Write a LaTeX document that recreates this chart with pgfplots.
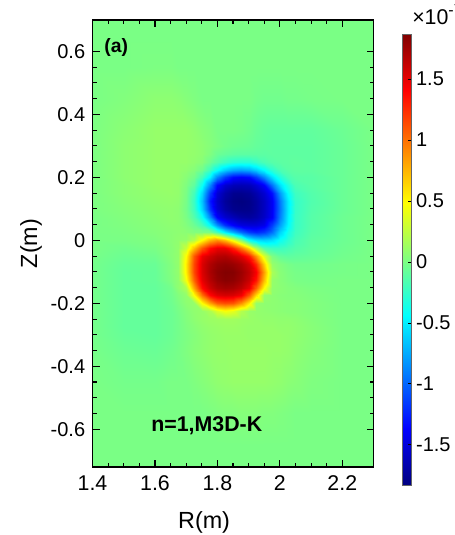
\documentclass[border=0pt]{standalone}
\usepackage{fontspec}
\setmainfont{Liberation Sans}
\usepackage{pgfplots}
\pgfplotsset{compat=1.18}
\begin{document}
\begin{tikzpicture}
\useasboundingbox (0pt,0pt) rectangle (340.5pt,401.25pt);
\begin{axis}[
  at={(69.4pt,51pt)}, anchor=south west,
  scale only axis, width=210.75pt, height=335.25pt,
  xmin=1.4, xmax=2.3, ymin=-0.72, ymax=0.7,
  xtick={1.4,1.6,1.8,2.0,2.2}, xticklabels={1.4,1.6,1.8,2,2.2},
  ytick={-0.6,-0.4,-0.2,0,0.2,0.4,0.6}, yticklabels={-0.6,-0.4,-0.2,0,0.2,0.4,0.6},
  minor x tick num=3, minor y tick num=3,
  tick align=inside, xtick pos=both, ytick pos=both,
  major tick length=5.25pt, minor tick length=3pt,
  every tick/.style={black, line width=0.8pt},
  axis line style={black, line width=1.1pt},
  axis on top,
  xticklabel style={font=\fontsize{16}{19}\selectfont, yshift=-3pt},
  yticklabel style={font=\fontsize{15}{18}\selectfont, xshift=-2pt},
  xlabel={R(m)}, ylabel={Z(m)},
  xlabel style={font=\fontsize{17.5}{20}\selectfont, at={(axis description cs:0.397,-0.125)}, anchor=center},
  ylabel style={font=\fontsize{17.5}{20}\selectfont, at={(axis description cs:-0.219,0.5)}, anchor=center},
  colormap/jet,
  point meta min=-1.83, point meta max=1.87,
  colorbar,
  colorbar style={
    at={(293.25pt,375.75pt)}, anchor=north west,
    scale only axis, width=6.75pt, height=338.25pt,
    ytick={-1.5,-1,-0.5,0,0.5,1,1.5},
    yticklabels={-1.5,-1,-0.5,0,0.5,1,1.5},
    yticklabel style={font=\fontsize{15}{18}\selectfont},
    ytick pos=right, yticklabel pos=right,
    tick align=inside, major tick length=2.5pt,
    every tick/.style={black, line width=0.5pt},
    axis line style={draw=black!60, line width=0.5pt},
  },
]
\addplot[surf, shader=interp, mesh/cols=23, point meta=explicit]
table[row sep=\\, x index=0, y index=1, meta index=2] {
1.4 -0.75 0\\ 1.5 -0.75 0\\ 1.6 -0.75 0\\ 1.65 -0.75 0\\ 1.675 -0.75 0\\ 1.7 -0.75 0\\ 1.725 -0.75 0\\ 1.75 -0.75 0\\ 1.775 -0.75 0\\ 1.8 -0.75 0\\ 1.825 -0.75 0\\ 1.85 -0.75 0\\ 1.875 -0.75 0\\ 1.9 -0.75 0\\ 1.925 -0.75 0\\ 1.95 -0.75 0\\ 1.975 -0.75 0\\ 2 -0.75 0\\ 2.025 -0.75 0\\ 2.05 -0.75 0\\ 2.1 -0.75 0\\ 2.2 -0.75 0\\ 2.3 -0.75 0\\
1.4 -0.65 0\\ 1.5 -0.65 0\\ 1.6 -0.65 0\\ 1.65 -0.65 0\\ 1.675 -0.65 0\\ 1.7 -0.65 0\\ 1.725 -0.65 0\\ 1.75 -0.65 0\\ 1.775 -0.65 0\\ 1.8 -0.65 0\\ 1.825 -0.65 0\\ 1.85 -0.65 0\\ 1.875 -0.65 0\\ 1.9 -0.65 0\\ 1.925 -0.65 0\\ 1.95 -0.65 0\\ 1.975 -0.65 0\\ 2 -0.65 0\\ 2.025 -0.65 0\\ 2.05 -0.65 0\\ 2.1 -0.65 0\\ 2.2 -0.65 0\\ 2.3 -0.65 0\\
1.4 -0.55 0\\ 1.5 -0.55 0\\ 1.6 -0.55 0\\ 1.65 -0.55 0\\ 1.675 -0.55 0\\ 1.7 -0.55 0\\ 1.725 -0.55 0\\ 1.75 -0.55 0\\ 1.775 -0.55 0.01\\ 1.8 -0.55 0.02\\ 1.825 -0.55 0.03\\ 1.85 -0.55 0.03\\ 1.875 -0.55 0.04\\ 1.9 -0.55 0.04\\ 1.925 -0.55 0.04\\ 1.95 -0.55 0.03\\ 1.975 -0.55 0.03\\ 2 -0.55 0.02\\ 2.025 -0.55 0.01\\ 2.05 -0.55 0\\ 2.1 -0.55 0\\ 2.2 -0.55 0\\ 2.3 -0.55 0\\
1.4 -0.45 0\\ 1.5 -0.45 -0.02\\ 1.6 -0.45 -0.02\\ 1.65 -0.45 0\\ 1.675 -0.45 0\\ 1.7 -0.45 0\\ 1.725 -0.45 0.02\\ 1.75 -0.45 0.04\\ 1.775 -0.45 0.06\\ 1.8 -0.45 0.08\\ 1.825 -0.45 0.09\\ 1.85 -0.45 0.1\\ 1.875 -0.45 0.1\\ 1.9 -0.45 0.1\\ 1.925 -0.45 0.1\\ 1.95 -0.45 0.1\\ 1.975 -0.45 0.09\\ 2 -0.45 0.08\\ 2.025 -0.45 0.06\\ 2.05 -0.45 0.05\\ 2.1 -0.45 0.02\\ 2.2 -0.45 0\\ 2.3 -0.45 0\\
1.4 -0.35 -0.01\\ 1.5 -0.35 -0.05\\ 1.6 -0.35 -0.06\\ 1.65 -0.35 -0.03\\ 1.675 -0.35 -0.01\\ 1.7 -0.35 0.02\\ 1.725 -0.35 0.05\\ 1.75 -0.35 0.07\\ 1.775 -0.35 0.09\\ 1.8 -0.35 0.1\\ 1.825 -0.35 0.1\\ 1.85 -0.35 0.11\\ 1.875 -0.35 0.11\\ 1.9 -0.35 0.11\\ 1.925 -0.35 0.11\\ 1.95 -0.35 0.11\\ 1.975 -0.35 0.1\\ 2 -0.35 0.1\\ 2.025 -0.35 0.09\\ 2.05 -0.35 0.07\\ 2.1 -0.35 0.04\\ 2.2 -0.35 0\\ 2.3 -0.35 0\\
1.4 -0.3 -0.02\\ 1.5 -0.3 -0.07\\ 1.6 -0.3 -0.08\\ 1.65 -0.3 -0.05\\ 1.675 -0.3 -0.02\\ 1.7 -0.3 0.01\\ 1.725 -0.3 0.04\\ 1.75 -0.3 0.07\\ 1.775 -0.3 0.09\\ 1.8 -0.3 0.1\\ 1.825 -0.3 0.11\\ 1.85 -0.3 0.11\\ 1.875 -0.3 0.11\\ 1.9 -0.3 0.1\\ 1.925 -0.3 0.1\\ 1.95 -0.3 0.1\\ 1.975 -0.3 0.1\\ 2 -0.3 0.1\\ 2.025 -0.3 0.09\\ 2.05 -0.3 0.08\\ 2.1 -0.3 0.05\\ 2.2 -0.3 0\\ 2.3 -0.3 0\\
1.4 -0.275 -0.02\\ 1.5 -0.275 -0.08\\ 1.6 -0.275 -0.08\\ 1.65 -0.275 -0.05\\ 1.675 -0.275 -0.02\\ 1.7 -0.275 0.02\\ 1.725 -0.275 0.05\\ 1.75 -0.275 0.08\\ 1.775 -0.275 0.1\\ 1.8 -0.275 0.11\\ 1.825 -0.275 0.12\\ 1.85 -0.275 0.12\\ 1.875 -0.275 0.11\\ 1.9 -0.275 0.1\\ 1.925 -0.275 0.1\\ 1.95 -0.275 0.1\\ 1.975 -0.275 0.1\\ 2 -0.275 0.09\\ 2.025 -0.275 0.09\\ 2.05 -0.275 0.08\\ 2.1 -0.275 0.05\\ 2.2 -0.275 0\\ 2.3 -0.275 0\\
1.4 -0.25 -0.02\\ 1.5 -0.25 -0.08\\ 1.6 -0.25 -0.08\\ 1.65 -0.25 -0.05\\ 1.675 -0.25 -0.02\\ 1.7 -0.25 0.03\\ 1.725 -0.25 0.07\\ 1.75 -0.25 0.1\\ 1.775 -0.25 0.12\\ 1.8 -0.25 0.13\\ 1.825 -0.25 0.14\\ 1.85 -0.25 0.14\\ 1.875 -0.25 0.12\\ 1.9 -0.25 0.11\\ 1.925 -0.25 0.1\\ 1.95 -0.25 0.09\\ 1.975 -0.25 0.09\\ 2 -0.25 0.08\\ 2.025 -0.25 0.08\\ 2.05 -0.25 0.07\\ 2.1 -0.25 0.04\\ 2.2 -0.25 0\\ 2.3 -0.25 0\\
1.4 -0.225 -0.02\\ 1.5 -0.225 -0.08\\ 1.6 -0.225 -0.08\\ 1.65 -0.225 -0.05\\ 1.675 -0.225 -0.01\\ 1.7 -0.225 0.04\\ 1.725 -0.225 0.08\\ 1.75 -0.225 0.1\\ 1.775 -0.225 0.18\\ 1.8 -0.225 0.35\\ 1.825 -0.225 0.45\\ 1.85 -0.225 0.39\\ 1.875 -0.225 0.21\\ 1.9 -0.225 0.11\\ 1.925 -0.225 0.09\\ 1.95 -0.225 0.08\\ 1.975 -0.225 0.07\\ 2 -0.225 0.06\\ 2.025 -0.225 0.05\\ 2.05 -0.225 0.05\\ 2.1 -0.225 0.03\\ 2.2 -0.225 0\\ 2.3 -0.225 0\\
1.4 -0.2 -0.02\\ 1.5 -0.2 -0.08\\ 1.6 -0.2 -0.08\\ 1.65 -0.2 -0.04\\ 1.675 -0.2 0.01\\ 1.7 -0.2 0.07\\ 1.725 -0.2 0.1\\ 1.75 -0.2 0.49\\ 1.775 -0.2 0.82\\ 1.8 -0.2 1.06\\ 1.825 -0.2 1.13\\ 1.85 -0.2 1.1\\ 1.875 -0.2 0.89\\ 1.9 -0.2 0.55\\ 1.925 -0.2 0.1\\ 1.95 -0.2 0.075\\ 1.975 -0.2 0.07\\ 2 -0.2 0.06\\ 2.025 -0.2 0.05\\ 2.05 -0.2 0.05\\ 2.1 -0.2 0.03\\ 2.2 -0.2 0\\ 2.3 -0.2 0\\
1.4 -0.175 -0.02\\ 1.5 -0.175 -0.08\\ 1.6 -0.175 -0.08\\ 1.65 -0.175 -0.03\\ 1.675 -0.175 0.03\\ 1.7 -0.175 0.09\\ 1.725 -0.175 0.49\\ 1.75 -0.175 1\\ 1.775 -0.175 1.39\\ 1.8 -0.175 1.52\\ 1.825 -0.175 1.56\\ 1.85 -0.175 1.54\\ 1.875 -0.175 1.45\\ 1.9 -0.175 1.1\\ 1.925 -0.175 0.62\\ 1.95 -0.175 0.1\\ 1.975 -0.175 0.07\\ 2 -0.175 0.05\\ 2.025 -0.175 0.04\\ 2.05 -0.175 0.04\\ 2.1 -0.175 0.02\\ 2.2 -0.175 0\\ 2.3 -0.175 0\\
1.4 -0.15 -0.02\\ 1.5 -0.15 -0.08\\ 1.6 -0.15 -0.08\\ 1.65 -0.15 -0.02\\ 1.675 -0.15 0.075\\ 1.7 -0.15 0.19\\ 1.725 -0.15 0.82\\ 1.75 -0.15 1.37\\ 1.775 -0.15 1.59\\ 1.8 -0.15 1.7\\ 1.825 -0.15 1.74\\ 1.85 -0.15 1.72\\ 1.875 -0.15 1.64\\ 1.9 -0.15 1.48\\ 1.925 -0.15 1.06\\ 1.95 -0.15 0.48\\ 1.975 -0.15 0.085\\ 2 -0.15 0.06\\ 2.025 -0.15 0.04\\ 2.05 -0.15 0.03\\ 2.1 -0.15 0.01\\ 2.2 -0.15 0\\ 2.3 -0.15 0\\
1.4 -0.125 -0.02\\ 1.5 -0.125 -0.08\\ 1.6 -0.125 -0.07\\ 1.65 -0.125 0.02\\ 1.675 -0.125 0.08\\ 1.7 -0.125 0.45\\ 1.725 -0.125 1.06\\ 1.75 -0.125 1.5\\ 1.775 -0.125 1.68\\ 1.8 -0.125 1.79\\ 1.825 -0.125 1.84\\ 1.85 -0.125 1.82\\ 1.875 -0.125 1.74\\ 1.9 -0.125 1.6\\ 1.925 -0.125 1.34\\ 1.95 -0.125 0.72\\ 1.975 -0.125 0.1\\ 2 -0.125 0.05\\ 2.025 -0.125 0.02\\ 2.05 -0.125 0\\ 2.1 -0.125 -0.01\\ 2.2 -0.125 0\\ 2.3 -0.125 0\\
1.4 -0.1 -0.02\\ 1.5 -0.1 -0.08\\ 1.6 -0.1 -0.07\\ 1.65 -0.1 0.03\\ 1.675 -0.1 0.09\\ 1.7 -0.1 0.54\\ 1.725 -0.1 1.16\\ 1.75 -0.1 1.54\\ 1.775 -0.1 1.72\\ 1.8 -0.1 1.82\\ 1.825 -0.1 1.86\\ 1.85 -0.1 1.85\\ 1.875 -0.1 1.77\\ 1.9 -0.1 1.64\\ 1.925 -0.1 1.43\\ 1.95 -0.1 0.82\\ 1.975 -0.1 0.17\\ 2 -0.1 0.05\\ 2.025 -0.1 0.01\\ 2.05 -0.1 -0.01\\ 2.1 -0.1 -0.02\\ 2.2 -0.1 -0.01\\ 2.3 -0.1 0\\
1.4 -0.075 -0.02\\ 1.5 -0.075 -0.07\\ 1.6 -0.075 -0.06\\ 1.65 -0.075 0.03\\ 1.675 -0.075 0.09\\ 1.7 -0.075 0.55\\ 1.725 -0.075 1.16\\ 1.75 -0.075 1.54\\ 1.775 -0.075 1.7\\ 1.8 -0.075 1.78\\ 1.825 -0.075 1.81\\ 1.85 -0.075 1.78\\ 1.875 -0.075 1.71\\ 1.9 -0.075 1.57\\ 1.925 -0.075 1.25\\ 1.95 -0.075 0.65\\ 1.975 -0.075 0.1\\ 2 -0.075 0.03\\ 2.025 -0.075 -0.01\\ 2.05 -0.075 -0.03\\ 2.1 -0.075 -0.03\\ 2.2 -0.075 -0.01\\ 2.3 -0.075 0\\
1.4 -0.05 -0.01\\ 1.5 -0.05 -0.05\\ 1.6 -0.05 -0.03\\ 1.65 -0.05 0.05\\ 1.675 -0.05 0.09\\ 1.7 -0.05 0.49\\ 1.725 -0.05 1.1\\ 1.75 -0.05 1.47\\ 1.775 -0.05 1.59\\ 1.8 -0.05 1.67\\ 1.825 -0.05 1.69\\ 1.85 -0.05 1.62\\ 1.875 -0.05 1.52\\ 1.9 -0.05 1.3\\ 1.925 -0.05 0.87\\ 1.95 -0.05 0.35\\ 1.975 -0.05 0.01\\ 2 -0.05 -0.08\\ 2.025 -0.05 -0.1\\ 2.05 -0.05 -0.09\\ 2.1 -0.05 -0.07\\ 2.2 -0.05 -0.03\\ 2.3 -0.05 0\\
1.4 -0.025 0\\ 1.5 -0.025 -0.03\\ 1.6 -0.025 0\\ 1.65 -0.025 0.05\\ 1.675 -0.025 0.09\\ 1.7 -0.025 0.29\\ 1.725 -0.025 0.72\\ 1.75 -0.025 1.1\\ 1.775 -0.025 1.37\\ 1.8 -0.025 1.48\\ 1.825 -0.025 1.47\\ 1.85 -0.025 1.28\\ 1.875 -0.025 0.97\\ 1.9 -0.025 0.6\\ 1.925 -0.025 0.18\\ 1.95 -0.025 -0.15\\ 1.975 -0.025 -0.22\\ 2 -0.025 -0.22\\ 2.025 -0.025 -0.18\\ 2.05 -0.025 -0.14\\ 2.1 -0.025 -0.09\\ 2.2 -0.025 -0.04\\ 2.3 -0.025 0\\
1.4 0 0\\ 1.5 0 0\\ 1.6 0 0.02\\ 1.65 0 0.06\\ 1.675 0 0.08\\ 1.7 0 0.1\\ 1.725 0 0.22\\ 1.75 0 0.5\\ 1.775 0 0.76\\ 1.8 0 0.88\\ 1.825 0 0.72\\ 1.85 0 0.41\\ 1.875 0 0.04\\ 1.9 0 -0.41\\ 1.925 0 -0.55\\ 1.95 0 -0.6\\ 1.975 0 -0.55\\ 2 0 -0.4\\ 2.025 0 -0.28\\ 2.05 0 -0.18\\ 2.1 0 -0.1\\ 2.2 0 -0.05\\ 2.3 0 0\\
1.4 0.025 0\\ 1.5 0.025 0.01\\ 1.6 0.025 0.04\\ 1.65 0.025 0.06\\ 1.675 0.025 0.07\\ 1.7 0.025 0.06\\ 1.725 0.025 0.03\\ 1.75 0.025 0.02\\ 1.775 0.025 0\\ 1.8 0.025 -0.2\\ 1.825 0.025 -0.5\\ 1.85 0.025 -0.74\\ 1.875 0.025 -0.98\\ 1.9 0.025 -1.16\\ 1.925 0.025 -1.23\\ 1.95 0.025 -1.16\\ 1.975 0.025 -0.96\\ 2 0.025 -0.6\\ 2.025 0.025 -0.36\\ 2.05 0.025 -0.22\\ 2.1 0.025 -0.12\\ 2.2 0.025 -0.05\\ 2.3 0.025 0\\
1.4 0.05 0\\ 1.5 0.05 0.02\\ 1.6 0.05 0.05\\ 1.65 0.05 0.07\\ 1.675 0.05 0.07\\ 1.7 0.05 0.03\\ 1.725 0.05 -0.05\\ 1.75 0.05 -0.18\\ 1.775 0.05 -0.45\\ 1.8 0.05 -0.84\\ 1.825 0.05 -1.19\\ 1.85 0.05 -1.37\\ 1.875 0.05 -1.48\\ 1.9 0.05 -1.51\\ 1.925 0.05 -1.51\\ 1.95 0.05 -1.44\\ 1.975 0.05 -1.15\\ 2 0.05 -0.78\\ 2.025 0.05 -0.45\\ 2.05 0.05 -0.24\\ 2.1 0.05 -0.13\\ 2.2 0.05 -0.05\\ 2.3 0.05 0\\
1.4 0.075 0\\ 1.5 0.075 0.03\\ 1.6 0.075 0.06\\ 1.65 0.075 0.08\\ 1.675 0.075 0.07\\ 1.7 0.075 0\\ 1.725 0.075 -0.15\\ 1.75 0.075 -0.4\\ 1.775 0.075 -0.88\\ 1.8 0.075 -1.38\\ 1.825 0.075 -1.54\\ 1.85 0.075 -1.63\\ 1.875 0.075 -1.7\\ 1.9 0.075 -1.72\\ 1.925 0.075 -1.68\\ 1.95 0.075 -1.57\\ 1.975 0.075 -1.39\\ 2 0.075 -0.9\\ 2.025 0.075 -0.48\\ 2.05 0.075 -0.24\\ 2.1 0.075 -0.13\\ 2.2 0.075 -0.05\\ 2.3 0.075 0\\
1.4 0.1 0.01\\ 1.5 0.1 0.04\\ 1.6 0.1 0.07\\ 1.65 0.1 0.08\\ 1.675 0.1 0.07\\ 1.7 0.1 -0.02\\ 1.725 0.1 -0.22\\ 1.75 0.1 -0.6\\ 1.775 0.1 -1.19\\ 1.8 0.1 -1.53\\ 1.825 0.1 -1.69\\ 1.85 0.1 -1.78\\ 1.875 0.1 -1.8\\ 1.9 0.1 -1.79\\ 1.925 0.1 -1.72\\ 1.95 0.1 -1.59\\ 1.975 0.1 -1.4\\ 2 0.1 -0.94\\ 2.025 0.1 -0.5\\ 2.05 0.1 -0.25\\ 2.1 0.1 -0.14\\ 2.2 0.1 -0.06\\ 2.3 0.1 0\\
1.4 0.125 0.01\\ 1.5 0.125 0.05\\ 1.6 0.125 0.08\\ 1.65 0.125 0.09\\ 1.675 0.125 0.08\\ 1.7 0.125 -0.01\\ 1.725 0.125 -0.24\\ 1.75 0.125 -0.66\\ 1.775 0.125 -1.29\\ 1.8 0.125 -1.57\\ 1.825 0.125 -1.73\\ 1.85 0.125 -1.81\\ 1.875 0.125 -1.83\\ 1.9 0.125 -1.8\\ 1.925 0.125 -1.72\\ 1.95 0.125 -1.59\\ 1.975 0.125 -1.4\\ 2 0.125 -0.92\\ 2.025 0.125 -0.5\\ 2.05 0.125 -0.25\\ 2.1 0.125 -0.15\\ 2.2 0.125 -0.06\\ 2.3 0.125 0\\
1.4 0.15 0.01\\ 1.5 0.15 0.06\\ 1.6 0.15 0.09\\ 1.65 0.15 0.1\\ 1.675 0.15 0.09\\ 1.7 0.15 0\\ 1.725 0.15 -0.2\\ 1.75 0.15 -0.58\\ 1.775 0.15 -1.16\\ 1.8 0.15 -1.52\\ 1.825 0.15 -1.68\\ 1.85 0.15 -1.77\\ 1.875 0.15 -1.78\\ 1.9 0.15 -1.75\\ 1.925 0.15 -1.66\\ 1.95 0.15 -1.53\\ 1.975 0.15 -1.31\\ 2 0.15 -0.8\\ 2.025 0.15 -0.42\\ 2.05 0.15 -0.22\\ 2.1 0.15 -0.14\\ 2.2 0.15 -0.06\\ 2.3 0.15 0\\
1.4 0.175 0.01\\ 1.5 0.175 0.06\\ 1.6 0.175 0.1\\ 1.65 0.175 0.1\\ 1.675 0.175 0.09\\ 1.7 0.175 0.02\\ 1.725 0.175 -0.1\\ 1.75 0.175 -0.4\\ 1.775 0.175 -0.88\\ 1.8 0.175 -1.35\\ 1.825 0.175 -1.54\\ 1.85 0.175 -1.62\\ 1.875 0.175 -1.64\\ 1.9 0.175 -1.62\\ 1.925 0.175 -1.52\\ 1.95 0.175 -1.37\\ 1.975 0.175 -0.95\\ 2 0.175 -0.55\\ 2.025 0.175 -0.32\\ 2.05 0.175 -0.17\\ 2.1 0.175 -0.12\\ 2.2 0.175 -0.06\\ 2.3 0.175 0\\
1.4 0.2 0.01\\ 1.5 0.2 0.07\\ 1.6 0.2 0.1\\ 1.65 0.2 0.1\\ 1.675 0.2 0.1\\ 1.7 0.2 0.05\\ 1.725 0.2 -0.02\\ 1.75 0.2 -0.2\\ 1.775 0.2 -0.48\\ 1.8 0.2 -0.88\\ 1.825 0.2 -1.16\\ 1.85 0.2 -1.34\\ 1.875 0.2 -1.38\\ 1.9 0.2 -1.34\\ 1.925 0.2 -1.16\\ 1.95 0.2 -0.87\\ 1.975 0.2 -0.55\\ 2 0.2 -0.32\\ 2.025 0.2 -0.18\\ 2.05 0.2 -0.13\\ 2.1 0.2 -0.12\\ 2.2 0.2 -0.06\\ 2.3 0.2 0\\
1.4 0.225 0.01\\ 1.5 0.225 0.07\\ 1.6 0.225 0.1\\ 1.65 0.225 0.1\\ 1.675 0.225 0.1\\ 1.7 0.225 0.08\\ 1.725 0.225 0.04\\ 1.75 0.225 -0.04\\ 1.775 0.225 -0.22\\ 1.8 0.225 -0.42\\ 1.825 0.225 -0.62\\ 1.85 0.225 -0.74\\ 1.875 0.225 -0.78\\ 1.9 0.225 -0.74\\ 1.925 0.225 -0.62\\ 1.95 0.225 -0.45\\ 1.975 0.225 -0.28\\ 2 0.225 -0.17\\ 2.025 0.225 -0.12\\ 2.05 0.225 -0.1\\ 2.1 0.225 -0.1\\ 2.2 0.225 -0.06\\ 2.3 0.225 0\\
1.4 0.25 0.01\\ 1.5 0.25 0.07\\ 1.6 0.25 0.1\\ 1.65 0.25 0.1\\ 1.675 0.25 0.1\\ 1.7 0.25 0.1\\ 1.725 0.25 0.08\\ 1.75 0.25 0.05\\ 1.775 0.25 -0.05\\ 1.8 0.25 -0.14\\ 1.825 0.25 -0.22\\ 1.85 0.25 -0.28\\ 1.875 0.25 -0.3\\ 1.9 0.25 -0.3\\ 1.925 0.25 -0.24\\ 1.95 0.25 -0.17\\ 1.975 0.25 -0.13\\ 2 0.25 -0.11\\ 2.025 0.25 -0.1\\ 2.05 0.25 -0.09\\ 2.1 0.25 -0.1\\ 2.2 0.25 -0.06\\ 2.3 0.25 0\\
1.4 0.275 0.01\\ 1.5 0.275 0.07\\ 1.6 0.275 0.1\\ 1.65 0.275 0.1\\ 1.675 0.275 0.1\\ 1.7 0.275 0.1\\ 1.725 0.275 0.09\\ 1.75 0.275 0.07\\ 1.775 0.275 0.02\\ 1.8 0.275 -0.05\\ 1.825 0.275 -0.08\\ 1.85 0.275 -0.1\\ 1.875 0.275 -0.11\\ 1.9 0.275 -0.11\\ 1.925 0.275 -0.11\\ 1.95 0.275 -0.11\\ 1.975 0.275 -0.1\\ 2 0.275 -0.1\\ 2.025 0.275 -0.1\\ 2.05 0.275 -0.1\\ 2.1 0.275 -0.1\\ 2.2 0.275 -0.06\\ 2.3 0.275 0\\
1.4 0.3 0.01\\ 1.5 0.3 0.07\\ 1.6 0.3 0.1\\ 1.65 0.3 0.1\\ 1.675 0.3 0.1\\ 1.7 0.3 0.1\\ 1.725 0.3 0.09\\ 1.75 0.3 0.07\\ 1.775 0.3 0.04\\ 1.8 0.3 0.01\\ 1.825 0.3 -0.02\\ 1.85 0.3 -0.04\\ 1.875 0.3 -0.05\\ 1.9 0.3 -0.06\\ 1.925 0.3 -0.08\\ 1.95 0.3 -0.09\\ 1.975 0.3 -0.1\\ 2 0.3 -0.1\\ 2.025 0.3 -0.1\\ 2.05 0.3 -0.1\\ 2.1 0.3 -0.1\\ 2.2 0.3 -0.06\\ 2.3 0.3 0\\
1.4 0.35 0.01\\ 1.5 0.35 0.06\\ 1.6 0.35 0.1\\ 1.65 0.35 0.1\\ 1.675 0.35 0.1\\ 1.7 0.35 0.1\\ 1.725 0.35 0.08\\ 1.75 0.35 0.05\\ 1.775 0.35 0.03\\ 1.8 0.35 0\\ 1.825 0.35 0\\ 1.85 0.35 0\\ 1.875 0.35 -0.01\\ 1.9 0.35 -0.03\\ 1.925 0.35 -0.06\\ 1.95 0.35 -0.08\\ 1.975 0.35 -0.09\\ 2 0.35 -0.09\\ 2.025 0.35 -0.09\\ 2.05 0.35 -0.09\\ 2.1 0.35 -0.09\\ 2.2 0.35 -0.05\\ 2.3 0.35 0\\
1.4 0.45 0\\ 1.5 0.45 0.03\\ 1.6 0.45 0.07\\ 1.65 0.45 0.07\\ 1.675 0.45 0.06\\ 1.7 0.45 0.04\\ 1.725 0.45 0.02\\ 1.75 0.45 0\\ 1.775 0.45 0\\ 1.8 0.45 0\\ 1.825 0.45 0\\ 1.85 0.45 0\\ 1.875 0.45 0\\ 1.9 0.45 0\\ 1.925 0.45 -0.02\\ 1.95 0.45 -0.03\\ 1.975 0.45 -0.03\\ 2 0.45 -0.03\\ 2.025 0.45 -0.02\\ 2.05 0.45 -0.02\\ 2.1 0.45 -0.01\\ 2.2 0.45 0\\ 2.3 0.45 0\\
1.4 0.55 0\\ 1.5 0.55 0\\ 1.6 0.55 0.01\\ 1.65 0.55 0.01\\ 1.675 0.55 0\\ 1.7 0.55 0\\ 1.725 0.55 0\\ 1.75 0.55 0\\ 1.775 0.55 0\\ 1.8 0.55 0\\ 1.825 0.55 0\\ 1.85 0.55 0\\ 1.875 0.55 0\\ 1.9 0.55 0\\ 1.925 0.55 0\\ 1.95 0.55 0\\ 1.975 0.55 0\\ 2 0.55 0\\ 2.025 0.55 0\\ 2.05 0.55 0\\ 2.1 0.55 0\\ 2.2 0.55 0\\ 2.3 0.55 0\\
1.4 0.65 0\\ 1.5 0.65 0\\ 1.6 0.65 0\\ 1.65 0.65 0\\ 1.675 0.65 0\\ 1.7 0.65 0\\ 1.725 0.65 0\\ 1.75 0.65 0\\ 1.775 0.65 0\\ 1.8 0.65 0\\ 1.825 0.65 0\\ 1.85 0.65 0\\ 1.875 0.65 0\\ 1.9 0.65 0\\ 1.925 0.65 0\\ 1.95 0.65 0\\ 1.975 0.65 0\\ 2 0.65 0\\ 2.025 0.65 0\\ 2.05 0.65 0\\ 2.1 0.65 0\\ 2.2 0.65 0\\ 2.3 0.65 0\\
1.4 0.75 0\\ 1.5 0.75 0\\ 1.6 0.75 0\\ 1.65 0.75 0\\ 1.675 0.75 0\\ 1.7 0.75 0\\ 1.725 0.75 0\\ 1.75 0.75 0\\ 1.775 0.75 0\\ 1.8 0.75 0\\ 1.825 0.75 0\\ 1.85 0.75 0\\ 1.875 0.75 0\\ 1.9 0.75 0\\ 1.925 0.75 0\\ 1.95 0.75 0\\ 1.975 0.75 0\\ 2 0.75 0\\ 2.025 0.75 0\\ 2.05 0.75 0\\ 2.1 0.75 0\\ 2.2 0.75 0\\ 2.3 0.75 0\\
};
\node[anchor=west, inner sep=0pt, font=\bfseries\fontsize{14.5}{17}\selectfont] at (axis cs:1.437,0.611) {(a)};
\node[anchor=base west, inner sep=0pt, font=\bfseries\fontsize{16}{19}\selectfont] at (axis cs:1.5875,-0.606) {n=1,M3D-K};
\end{axis}
\node[anchor=base west, inner sep=0pt, font=\fontsize{16}{19}\selectfont] at (309pt,382.5pt) {×10\raisebox{0.45em}{\fontsize{12}{14}\selectfont -7}};
\end{tikzpicture}
\end{document}
